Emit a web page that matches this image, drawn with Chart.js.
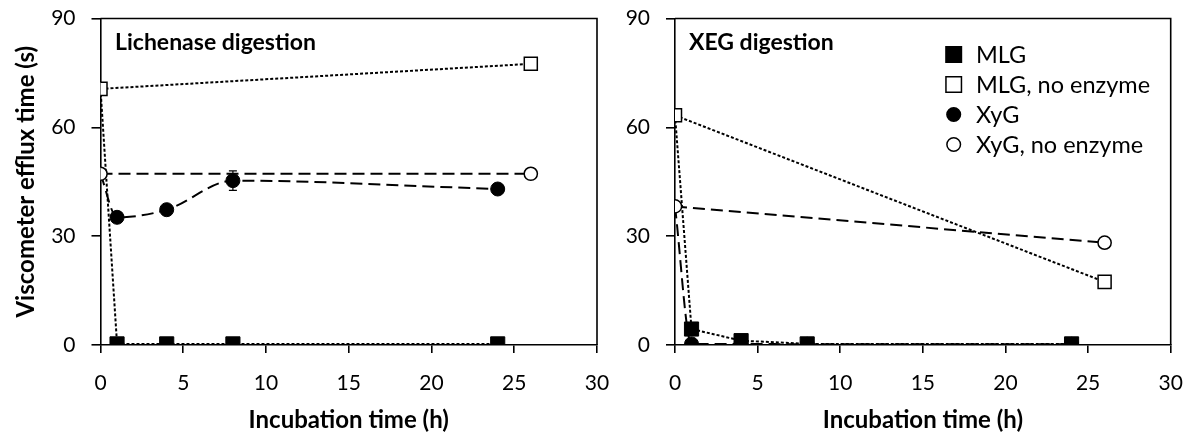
<!DOCTYPE html>
<html><head><meta charset="utf-8">
<script src="https://cdn.jsdelivr.net/npm/chart.js@4.4.0/dist/chart.umd.min.js"></script>
<style>
html,body{margin:0;padding:0;background:#fff;overflow:hidden;width:1192px;height:432px;}
canvas{position:absolute;top:0;}
#c1{left:0;} #c2{left:600px;}
</style></head><body>
<canvas id="c1" width="615" height="432"></canvas>
<canvas id="c2" width="592" height="432"></canvas>
<script>
// ---------- data ----------
const timesEnzyme   = [0, 1, 4, 8, 24];
const timesNoEnzyme = [0, 26];
const seriesLabels  = ['MLG', 'MLG, no enzyme', 'XyG', 'XyG, no enzyme'];
const panelTitles   = ['Lichenase digestion', 'XEG digestion'];
const xAxisTitle    = 'Incubation time (h)';
const yAxisTitle    = 'Viscometer efflux time (s)';
const xTickValues   = [0, 5, 10, 15, 20, 25, 30];
const yTickValues   = [0, 30, 60, 90];

// Lichenase digestion panel
const lichMLG        = [70.6, 0.3, 0.3, 0.3, 0.3];
const lichMLGNoEnz   = [70.6, 77.5];
const lichXyG        = [47.2, 35.2, 37.3, 45.3, 43.0];
const lichXyGErr     = [0, 0, 0, 2.7, 0];
const lichXyGNoEnz   = [47.2, 47.2];

// XEG digestion panel
const xegMLG         = [63.3, 4.4, 1.2, 0.3, 0.3];
const xegMLGNoEnz    = [63.3, 17.4];
const xegXyG         = [38.2, 0.3, 0.3, 0.2, 0.2];
const xegXyGErr      = [0, 0, 0, 0, 0];
const xegXyGNoEnz    = [38.2, 28.2];

// ---------- helpers ----------
const FONT = 'Lato';
function pts(xs, ys){ return xs.map((x, i) => ({x: x, y: ys[i]})); }
const hideFirst = r => (c => c.dataIndex === 0 ? 0 : r);

function makeDatasets(mlg, mlgNo, xyg, xygErr, xygNo){
  return [
    {label: seriesLabels[1], data: pts(timesNoEnzyme, mlgNo), pointStyle: 'rect', pointRadius: 9.2,
     pointBackgroundColor: '#fff', pointBorderColor: '#000', pointBorderWidth: 1.5,
     borderColor: '#000', borderWidth: 2, borderDash: [3, 2], order: 1},
    {label: seriesLabels[3], data: pts(timesNoEnzyme, xygNo), pointStyle: 'circle', pointRadius: 6.6,
     pointBackgroundColor: '#fff', pointBorderColor: '#000', pointBorderWidth: 1.5,
     borderColor: '#000', borderWidth: 2, borderDash: [12, 6], order: 2},
    {label: seriesLabels[0], data: pts(timesEnzyme, mlg), pointStyle: 'rect', pointRadius: hideFirst(10),
     pointBackgroundColor: '#000', pointBorderColor: '#000', pointBorderWidth: 1,
     borderColor: '#000', borderWidth: 2, borderDash: [3, 2], order: 3},
    {label: seriesLabels[2], data: pts(timesEnzyme, xyg), pointStyle: 'circle', pointRadius: hideFirst(7),
     pointBackgroundColor: '#000', pointBorderColor: '#000', pointBorderWidth: 1,
     borderColor: '#000', borderWidth: 2, borderDash: [12, 6], order: 4,
     cubicInterpolationMode: 'monotone', tension: 0.4, errors: xygErr}
  ];
}

const errorBarPlugin = {
  id: 'errbars',
  afterDatasetsDraw(chart){
    const ctx = chart.ctx, ys = chart.scales.y;
    chart.data.datasets.forEach((ds, i) => {
      if (!ds.errors) return;
      const meta = chart.getDatasetMeta(i);
      meta.data.forEach((pt, j) => {
        const e = ds.errors[j]; if (!e) return;
        const v = ds.data[j].y;
        const yt = ys.getPixelForValue(v + e), yb = ys.getPixelForValue(v - e);
        ctx.save(); ctx.strokeStyle = '#000'; ctx.lineWidth = 1.2;
        ctx.beginPath();
        ctx.moveTo(pt.x, yt); ctx.lineTo(pt.x, yb);
        ctx.moveTo(pt.x - 4, yt); ctx.lineTo(pt.x + 4, yt);
        ctx.moveTo(pt.x - 4, yb); ctx.lineTo(pt.x + 4, yb);
        ctx.stroke(); ctx.restore();
      });
    });
  }
};

const framePlugin = {
  id: 'frame',
  afterDraw(chart){
    const {ctx, chartArea: a} = chart;
    ctx.save(); ctx.strokeStyle = '#000'; ctx.lineWidth = 1.6;
    ctx.beginPath();
    ctx.moveTo(a.left, a.top); ctx.lineTo(a.right, a.top); ctx.lineTo(a.right, a.bottom);
    ctx.stroke(); ctx.restore();
  }
};

const panelTitlePlugin = {
  id: 'panelTitle',
  afterDraw(chart, args, opts){
    const ctx = chart.ctx;
    ctx.save(); ctx.fillStyle = '#000';
    ctx.font = 'bold 23px ' + FONT; ctx.textBaseline = 'middle'; ctx.textAlign = 'left';
    ctx.fillText(opts.text, opts.x, opts.y);
    ctx.restore();
  }
};

const legendPlugin = {
  id: 'boxLegend',
  afterDraw(chart, args, opts){
    if (!opts.show) return;
    const ctx = chart.ctx;
    const order = [seriesLabels[0], seriesLabels[1], seriesLabels[2], seriesLabels[3]];
    order.forEach((lab, k) => {
      const ds = chart.data.datasets.find(d => d.label === lab);
      const y = opts.y0 + k * opts.dy;
      ctx.save();
      ctx.fillStyle = ds.pointBackgroundColor; ctx.strokeStyle = '#000'; ctx.lineWidth = 1.5;
      if (ds.pointStyle === 'rect') {
        const s = 15.5;
        ctx.fillRect(opts.mx - s/2, y - s/2, s, s);
        ctx.strokeRect(opts.mx - s/2, y - s/2, s, s);
      } else {
        ctx.beginPath(); ctx.arc(opts.mx, y, 6.8, 0, Math.PI * 2); ctx.fill(); ctx.stroke();
      }
      ctx.fillStyle = '#000'; ctx.font = '23.5px ' + FONT; ctx.textBaseline = 'middle'; ctx.textAlign = 'left';
      ctx.fillText(lab, opts.tx, y + 1);
      ctx.restore();
    });
  }
};

function makeChart(id, datasets, cfg){
  return new Chart(document.getElementById(id), {
    type: 'line',
    data: {datasets: datasets},
    plugins: [errorBarPlugin, framePlugin, panelTitlePlugin, legendPlugin],
    options: {
      responsive: false, animation: false, devicePixelRatio: 1,
      layout: {padding: {left: 0, top: 18.5, right: cfg.padRight, bottom: 0}},
      plugins: {
        legend: {display: false}, tooltip: {enabled: false},
        panelTitle: {text: cfg.title, x: cfg.titleX, y: 43},
        boxLegend: cfg.legend
      },
      scales: {
        x: {
          type: 'linear', min: 0, max: 30,
          afterBuildTicks: s => { s.ticks = xTickValues.map(v => ({value: v})); },
          afterFit: s => { s.height = 432 - 345; s.paddingLeft = 0; s.paddingRight = 0; },
          grid: {display: true, drawOnChartArea: false, drawTicks: true, tickLength: 8, color: '#000', lineWidth: 1.6},
          border: {display: true, color: '#000', width: 1.6},
          ticks: {color: '#000', font: {family: FONT, size: 21}, padding: 18, maxRotation: 0},
          title: {display: true, text: xAxisTitle, color: '#000', font: {family: FONT, size: 24, weight: 'bold'}, padding: {top: 0, bottom: -3}}
        },
        y: {
          type: 'linear', min: 0, max: 90,
          afterBuildTicks: s => { s.ticks = yTickValues.map(v => ({value: v})); },
          afterFit: s => { s.width = cfg.axisLeft; s.paddingTop = 0; s.paddingBottom = 0; },
          grid: {display: true, drawOnChartArea: false, drawTicks: true, tickLength: 9, color: '#000', lineWidth: 1.6},
          border: {display: true, color: '#000', width: 1.6},
          ticks: {color: '#000', font: {family: FONT, size: 21}, padding: 16},
          title: {display: cfg.yTitle, text: yAxisTitle, color: '#000', font: {family: FONT, size: 24, weight: 'bold'}, padding: {top: 12, bottom: 0}}
        }
      }
    }
  });
}

makeChart('c1', makeDatasets(lichMLG, lichMLGNoEnz, lichXyG, lichXyGErr, lichXyGNoEnz),
  {title: panelTitles[0], titleX: 115, axisLeft: 100.5, padRight: 18, yTitle: true, legend: {show: false}});
makeChart('c2', makeDatasets(xegMLG, xegMLGNoEnz, xegXyG, xegXyGErr, xegXyGNoEnz),
  {title: panelTitles[1], titleX: 89, axisLeft: 75, padRight: 21.3, yTitle: false,
   legend: {show: true, mx: 353.7, tx: 376, y0: 54.5, dy: 30}});
</script>
</body></html>
